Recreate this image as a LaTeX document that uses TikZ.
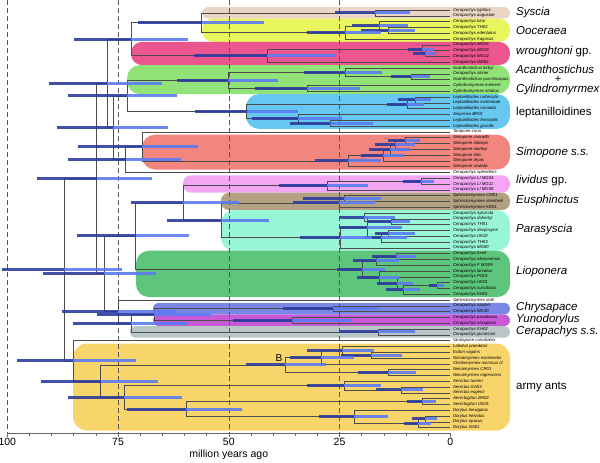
\documentclass[tikz,border=0pt]{standalone}
\usepackage{fontspec}
\setmainfont{Liberation Sans}
\usetikzlibrary{positioning}

\definecolor{barold}{HTML}{2E3C9E}
\definecolor{baryoung}{HTML}{5B7BF2}
\definecolor{cSyscia}{HTML}{E9D6C6}
\definecolor{cOoceraea}{HTML}{E8F55D}
\definecolor{cWrought}{HTML}{EA568D}
\definecolor{cAcantho}{HTML}{92E27A}
\definecolor{cLepto}{HTML}{66C8F0}
\definecolor{cSimop}{HTML}{F2867F}
\definecolor{cLividus}{HTML}{F3A6F3}
\definecolor{cEusph}{HTML}{B3A282}
\definecolor{cParasy}{HTML}{98F5D8}
\definecolor{cLiopon}{HTML}{5DC57C}
\definecolor{cChrysa}{HTML}{7B87E5}
\definecolor{cYunodo}{HTML}{C85AD8}
\definecolor{cCerap}{HTML}{B8C6C6}
\definecolor{cArmy}{HTML}{F7D56A}

\begin{document}
\begin{tikzpicture}[x=1pt,y=-1pt,
    branch/.style={draw=black!70, line width=0.6pt},
    hpdold/.style={draw=barold, line width=3pt, opacity=0.9},
    hpdyoung/.style={draw=baryoung, line width=3pt, opacity=0.9},
    gridline/.style={draw=black!65, dash pattern=on 5pt off 3pt, line width=0.6pt},
    axisline/.style={draw=black!60, line width=0.6pt},
    tiplabel/.style={font=\fontsize{4.3}{5}\selectfont\itshape, inner sep=0pt, anchor=west},
    grouplabel/.style={font=\fontsize{11.5}{12}\selectfont\itshape, inner sep=0pt, anchor=west},
    grouplabelup/.style={font=\fontsize{11.5}{12}\selectfont, inner sep=0pt, anchor=west},
    ticklabel/.style={font=\fontsize{10.5}{11}\selectfont, inner sep=1pt}
  ]
\useasboundingbox (0,0) rectangle (600,463);

% clade bands
\fill[cSyscia, rounded corners=6pt] (202,7) rectangle (510,18.7);
\fill[cOoceraea, rounded corners=11pt] (202,18.7) rectangle (510,41.9);
\fill[cWrought, rounded corners=11pt] (131,41.9) rectangle (510,65.1);
\fill[cAcantho, rounded corners=13pt] (127,65.1) rectangle (510,94.1);
\fill[cLepto, rounded corners=13pt] (246,94.1) rectangle (510,128.9);
\fill[cSimop, rounded corners=13pt] (142,134.7) rectangle (510,169.5);
\fill[cLividus, rounded corners=8pt] (183,175.3) rectangle (510,192.7);
\fill[cEusph, rounded corners=8pt] (221,192.7) rectangle (510,210.1);
\fill[cParasy, rounded corners=13pt] (221,210.1) rectangle (510,250.7);
\fill[cLiopon, rounded corners=13pt] (136,250.7) rectangle (510,297.1);
\fill[cChrysa, rounded corners=5.8pt] (153,302.9) rectangle (510,314.5);
\fill[cYunodo, rounded corners=5.8pt] (153,314.5) rectangle (510,326.1);
\fill[cCerap, rounded corners=5.8pt] (130,326.1) rectangle (510,337.7);
\fill[cArmy, rounded corners=14pt] (73,343.5) rectangle (510,430.5);

\begin{scope}[shift={(450.3,10)}, x=-4.43pt, y=-5.8pt]
  % time grid
  \foreach \a in {25,50,75,100}
    \draw[gridline] (\a,-1.72) -- (\a,72.98);

  % tips
  \foreach \taxon [count=\i] in {Cerapachys typhlus, Cerapachys augustae, Cerapachys biroi,
      Cerapachys TH02, Cerapachys edentatus, Cerapachys fragosus, Cerapachys MG02,
      Cerapachys MG03, Cerapachys MG14, Cerapachys DM02, Acanthostichus kirbyi,
      Cerapachys sloriei, Acanthostichus punctiscapus, Cylindromyrmex meinerti,
      Cylindromyrmex striatus, Leptanilloides nubecula, Leptanilloides mckennae,
      Leptanilloides nomada, Amyrmex BR01, Leptanilloides femoralis, Leptanilloides gracilis,
      Tanipone zona, Simopone conradti, Simopone laticeps, Simopone marleyi, Simopone trita,
      Simopone dryas, Simopone oculata, Cerapachys splendens, Cerapachys LI MG04,
      Cerapachys LI MG11, Cerapachys LI MG08, Sphinctomyrmex CM01, Sphinctomyrmex steinheili,
      Sphinctomyrmex KE01, Cerapachys sylvicola, Cerapachys dohertyi, Cerapachys TH01,
      Cerapachys desposyne, Cerapachys UK02, Cerapachys TH03, Cerapachys MG80,
      Cerapachys foreli, Cerapachys nkomoensis, Cerapachys F MG09, Cerapachys larvatus,
      Cerapachys PG01, Cerapachys UK01, Cerapachys suscitatus, Cerapachys KH01,
      Sphinctomyrmex stali, Cerapachys sauteri, Cerapachys MG30, Cerapachys paradoxus,
      Cerapachys sexspinus, Cerapachys KH02, Cerapachys jacobsoni, Vicinopone conciliatrix,
      Labidus praedator, Eciton vagans, Nomamyrmex esenbeckii, Cheliomyrmex morosus cf.,
      Neivamyrmex CR01, Neivamyrmex nigrescens, Aenictus turneri, Aenictus GA03,
      Aenictus eugenii, Aenictogiton ZM02, Aenictogiton UG01, Dorylus laevigatus,
      Dorylus helvolus, Dorylus opacus, Dorylus GA01}
  {
    \coordinate (t\i) at (0,{\i-1});
    \node[tiplabel, right=2.5pt of t\i] (lab\i) {\taxon};
  }

  % internal nodes: name / age / row
  \foreach \n/\a/\r in {nSy/17.0/0.5, nOo1/14.1/3.5, nOo2/16.1/2.75, nOo3/23.8/3.875,
      nSO/56.1/2.19, nWr1/5.7/7.5, nWr2/6.4/6.75, nWr3/41.4/7.875, nSOW/72.1/5.03,
      nAc1/8.9/11.5, nAc2/23.8/10.75, nCy/32.3/13.5, nAC/50.2/12.125,
      nLe1/8.0/15.5, nLe2/9.8/16.25, nLe3/27.2/19.5, nLe4/34.4/18.75, nLe5/46.0/17.5,
      nACL/73.0/14.81,
      nSi1/10.2/22.5, nSiB/12.5/23.25, nSiC/13.6/24.125, nSiA/15.2/25.06, nSi/23.1/26.03,
      nTS/69.5/23.52, nSTS/73.3/25.76, nVf/76.1/20.29, nU/77.4/12.66,
      nLi1/6.6/29.5, nLi2/27.8/30.25, nEu1/24.0/32.5, nEu2/25.1/33.25,
      nPa1/13.3/36.5, nPa2/19.5/35.75, nPa3/14.1/38.5, nPa4/15.6/39.25,
      nPa5/18.8/37.5, nPa6/24.9/39.25, nEP/51.8/36.25, nLEP/60.3/33.25,
      nLp1/12.3/42.5, nLp2/16.8/43.25, nLp3/3.0/47.5, nLp4/10.7/48.25,
      nLp5/12.0/47.125, nLp6/16.1/46.06, nLp7/19.9/44.66, nLL/71.0/38.95,
      nCh/26.5/51.5, nYu/35.7/53.5, nCY/66.8/52.5, nCe/16.3/55.5, nCYC/72.1/54,
      nSt/74.9/52, nY/78.1/45.48, nUp/79.8/29.07,
      nEc1/17.9/59.5, nEc2/24.4/58.75, nEc3/29.2/59.875, nNe/14.1/62.5, nEc4/37.3/61.19,
      nAe1/11.1/65.5, nAe2/24.0/64.75, nAg/6.4/67.5, nDo1/5.7/70.5, nDo2/7.3/71.25,
      nDo3/21.7/70.125, nAD/59.7/68.81, nAAD/73.6/66.78, nArmy/78.9/63.98,
      nVA/85.1/60.49, nRoot/87.1/44.78}
    \coordinate (\n) at (\a,\r);

  % branches: parent / child / child
  \foreach \p/\a/\b in {nSy/t1/t2, nOo1/t4/t5, nOo2/t3/nOo1, nOo3/nOo2/t6, nSO/nSy/nOo3,
      nWr1/t8/t9, nWr2/t7/nWr1, nWr3/nWr2/t10, nSOW/nSO/nWr3,
      nAc1/t12/t13, nAc2/t11/nAc1, nCy/t14/t15, nAC/nAc2/nCy,
      nLe1/t16/t17, nLe2/nLe1/t18, nLe3/t20/t21, nLe4/t19/nLe3, nLe5/nLe2/nLe4,
      nACL/nAC/nLe5,
      nSi1/t23/t24, nSiB/nSi1/t25, nSiC/nSiB/t26, nSiA/nSiC/t27, nSi/nSiA/t28,
      nTS/t22/nSi, nSTS/nTS/t29, nVf/nACL/nSTS, nU/nSOW/nVf,
      nLi1/t30/t31, nLi2/nLi1/t32, nEu1/t33/t34, nEu2/nEu1/t35,
      nPa1/t37/t38, nPa2/t36/nPa1, nPa3/t39/t40, nPa4/nPa3/t41, nPa5/nPa2/nPa4, nPa6/nPa5/t42,
      nEP/nEu2/nPa6, nLEP/nLi2/nEP,
      nLp1/t43/t44, nLp2/nLp1/t45, nLp3/t48/t49, nLp4/nLp3/t50, nLp5/t47/nLp4,
      nLp6/t46/nLp5, nLp7/nLp2/nLp6, nLL/nLEP/nLp7,
      nCh/t52/t53, nYu/t54/t55, nCY/nCh/nYu, nCe/t56/t57, nCYC/nCY/nCe,
      nSt/t51/nCYC, nY/nLL/nSt, nUp/nU/nY,
      nEc1/t60/t61, nEc2/t59/nEc1, nEc3/nEc2/t62, nNe/t63/t64, nEc4/nEc3/nNe,
      nAe1/t66/t67, nAe2/t65/nAe1, nAg/t68/t69, nDo1/t71/t72, nDo2/nDo1/t73,
      nDo3/t70/nDo2, nAD/nAg/nDo3, nAAD/nAe2/nAD, nArmy/nEc4/nAAD, nVA/t58/nArmy,
      nRoot/nUp/nVA}
    \draw[branch] (\p) |- (\a) (\p) |- (\b);

  % age intervals: node / older bound / younger bound
  \foreach \n/\o/\y in {nSy/26.0/9.1, nOo1/20.2/8.0, nOo2/22.2/9.5, nOo3/32.3/15.6,
      nSO/70.6/42.0, nWr1/8.4/3.2, nWr2/9.5/3.7, nWr3/57.8/25.8, nSOW/84.9/59.3,
      nAc1/13.4/4.6, nAc2/33.0/15.4, nCy/44.1/20.4, nAC/61.8/39.0,
      nLe1/11.8/4.4, nLe2/14.3/5.9, nLe3/36.2/17.4, nLe4/44.7/24.4, nLe5/57.6/34.3,
      nACL/86.2/61.8,
      nSi1/14.1/6.8, nSiB/17.0/8.0, nSiC/18.4/9.1, nSiA/20.2/10.7, nSi/30.5/15.6,
      nTS/84.1/56.9, nSTS/86.4/60.8, nVf/88.8/63.8, nU/90.7/65.1,
      nLi1/10.7/3.7, nLi2/38.7/18.6, nEu1/33.3/15.6, nEu2/35.5/17.0,
      nPa1/18.5/9.1, nPa2/24.9/12.5, nPa3/17.0/8.0, nPa4/19.3/9.8, nPa5/24.9/10.9,
      nPa6/33.9/17.7, nEP/64.0/40.9, nLEP/72.1/47.6,
      nLp1/17.7/7.7, nLp2/22.0/11.6, nLp3/4.8/1.4, nLp4/14.5/6.8, nLp5/16.5/8.4,
      nLp6/21.1/11.6, nLp7/25.6/14.7, nLL/84.2/59.0,
      nCh/37.7/15.9, nYu/49.0/22.2, nCY/79.8/54.0, nCe/24.9/8.0, nCYC/85.1/59.5,
      nSt/87.7/62.0, nY/91.9/66.4, nUp/93.2/67.4,
      nEc1/24.7/10.9, nEc2/32.3/17.2, nEc3/36.2/21.8, nNe/20.8/7.7, nEc4/46.1/28.0,
      nAe1/16.8/6.2, nAe2/32.3/15.6, nAg/9.8/3.2, nDo1/8.6/3.0, nDo2/10.5/4.4,
      nDo3/29.6/14.1, nAD/73.0/47.1, nAAD/86.4/60.6, nArmy/92.4/66.0,
      nVA/97.9/70.9, nRoot/101.3/74.2}
  {
    \draw[hpdold] (\o,0 |- \n) -- (\n);
    \draw[hpdyoung] (\n) -- (\y,0 |- \n);
  }

  % time axis
  \coordinate (ax0) at (0,72.98);
  \coordinate (ax100) at (100,72.98);
  \draw[axisline] (ax100) -- (ax0);
  \foreach \a in {0,5,...,100}
    \draw[axisline] (\a,72.98) -- ++(0,0.4);
  \foreach \a in {0,25,50,75,100}
    \draw[axisline] (\a,72.98) -- ++(0,0.7) node[ticklabel, below] (tick\a) {\a};
  \node[ticklabel, below=1pt of tick50] (axtitle) {million years ago};
\end{scope}

% calibration mark
\node[font=\fontsize{10}{10}\selectfont, inner sep=0pt] (calB) at (279,358) {B};

% clade names
\node[grouplabel] (gSy) at (516,13) {Syscia};
\node[grouplabel] (gOo) at (516,31) {Ooceraea};
\node[grouplabel] (gWr) at (516,52) {wroughtoni\upshape{} gp.};
\node[grouplabel] (gAc) at (516,69) {Acanthostichus};
\node[font=\fontsize{11}{11}\selectfont, inner sep=0pt] (gPlus) at (558,79.5) {+};
\node[grouplabel] (gCy) at (516,90) {Cylindromyrmex};
\node[grouplabelup] (gLe) at (516,113) {leptanilloidines};
\node[grouplabel] (gSi) at (516,153) {Simopone s.s.};
\node[grouplabel] (gLi) at (516,181) {lividus\upshape{} gp.};
\node[grouplabel] (gEu) at (516,201) {Eusphinctus};
\node[grouplabel] (gPa) at (516,230) {Parasyscia};
\node[grouplabel] (gLp) at (516,272) {Lioponera};
\node[grouplabel] (gCh) at (516,308) {Chrysapace};
\node[grouplabel] (gYu) at (516,320) {Yunodorylus};
\node[grouplabel] (gCe) at (516,332) {Cerapachys s.s.};
\node[grouplabelup] (gAr) at (516,387) {army ants};
\end{tikzpicture}
\end{document}
